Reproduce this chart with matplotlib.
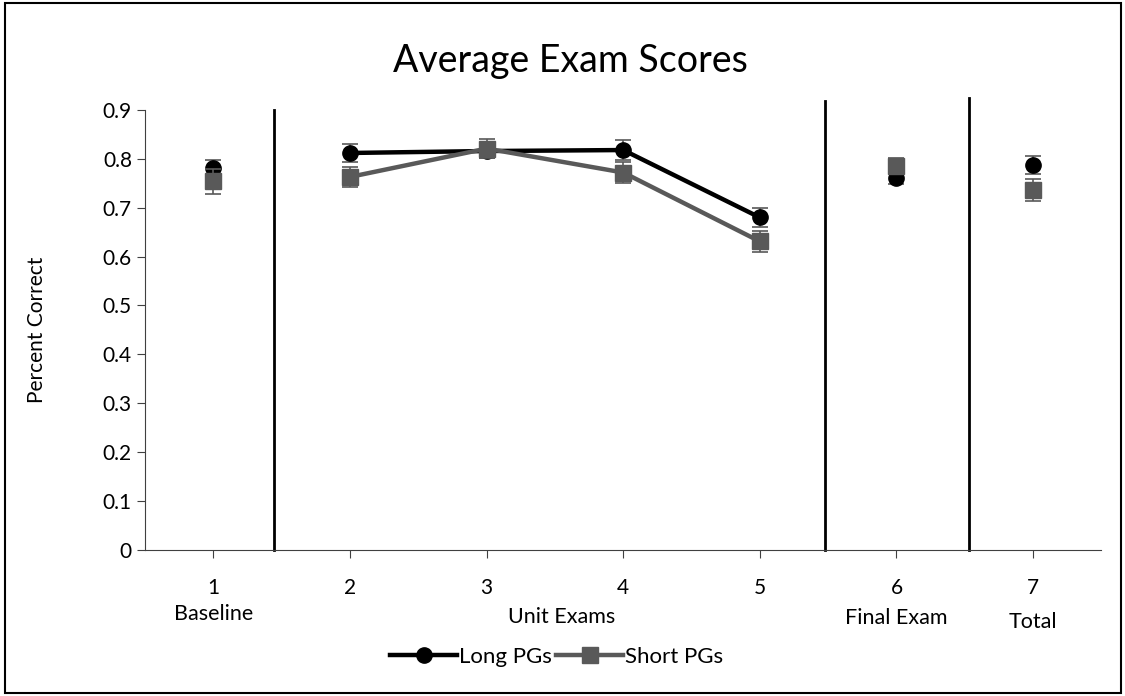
import matplotlib.pyplot as plt
import matplotlib.patches as patches

plt.rcParams['font.family'] = ['Lato', 'DejaVu Sans']

exams = [1, 2, 3, 4, 5, 6, 7]
long_pg = [0.782, 0.812, 0.816, 0.818, 0.680, 0.760, 0.787]
short_pg = [0.754, 0.763, 0.821, 0.772, 0.631, 0.786, 0.736]
long_err = [0.015, 0.018, 0.015, 0.020, 0.020, 0.012, 0.018]
short_err = [0.025, 0.020, 0.020, 0.022, 0.021, 0.015, 0.023]
groups = ['Baseline', 'Unit Exams', 'Final Exam', 'Total']
group_x = [1, 3.55, 6, 7]
group_y = [-0.146, -0.152, -0.156, -0.165]
dividers = [1.44, 5.48, 6.53]
divider_top = [0.9, 0.918, 0.924]

black = '#000000'
gray = '#595959'

fig = plt.figure(figsize=(11.25, 6.96), dpi=100)
ax = fig.add_axes([0.129, 0.21, 0.85, 0.632])

# connected segments (unit exams only) and isolated points
seg = slice(1, 5)
ax.plot(exams[seg], long_pg[seg], color=black, lw=3.2, zorder=3)
ax.plot(exams[seg], short_pg[seg], color=gray, lw=3.2, zorder=4)
ax.errorbar(exams, long_pg, yerr=long_err, fmt='o', color=black, ms=11,
            ecolor=gray, elinewidth=1.2, capsize=6, capthick=1.2, zorder=5)
ax.errorbar(exams, short_pg, yerr=short_err, fmt='s', color=gray, ms=11,
            ecolor=gray, elinewidth=1.2, capsize=6, capthick=1.2, zorder=6)

for x, top in zip(dividers, divider_top):
    ax.plot([x, x], [0, top], color='black', lw=2, clip_on=False, zorder=2)

ax.set_xlim(0.5, 7.5)
ax.set_ylim(0, 0.9)
ax.set_xticks(exams)
ax.set_xticklabels([str(e) for e in exams])
ax.set_yticks([i / 10 for i in range(10)])
ax.set_yticklabels(['0'] + [f'{i / 10:.1f}' for i in range(1, 10)])
ax.tick_params(axis='both', labelsize=15, direction='out', length=6, color='#404040')
ax.tick_params(axis='x', pad=14)
ax.spines['top'].set_visible(False)
ax.spines['right'].set_visible(False)
ax.spines['left'].set_color('#404040')
ax.spines['bottom'].set_color('#404040')
ax.set_ylabel('Percent Correct', fontsize=15, labelpad=40)

fig.text(0.507, 0.913, 'Average Exam Scores', ha='center', va='center', fontsize=27)

for name, x, y in zip(groups, group_x, group_y):
    ax.text(x, y, name, ha='center', va='center', fontsize=15.5,
            transform=ax.get_xaxis_transform(), clip_on=False)

h1, = ax.plot([], [], color=black, lw=3.2, marker='o', ms=11)
h2, = ax.plot([], [], color=gray, lw=3.2, marker='s', ms=11)
fig.legend([h1, h2], ['Long PGs', 'Short PGs'], loc='center',
           bbox_to_anchor=(0.495, 0.056), ncol=2, frameon=False,
           fontsize=16, handlelength=3.0, handletextpad=0.1, columnspacing=0.2)

fig.add_artist(patches.Rectangle((0.004, 0.004), 0.992, 0.992, transform=fig.transFigure,
                                 fill=False, edgecolor='black', lw=1.5))

fig.savefig('out.png', dpi=100)
